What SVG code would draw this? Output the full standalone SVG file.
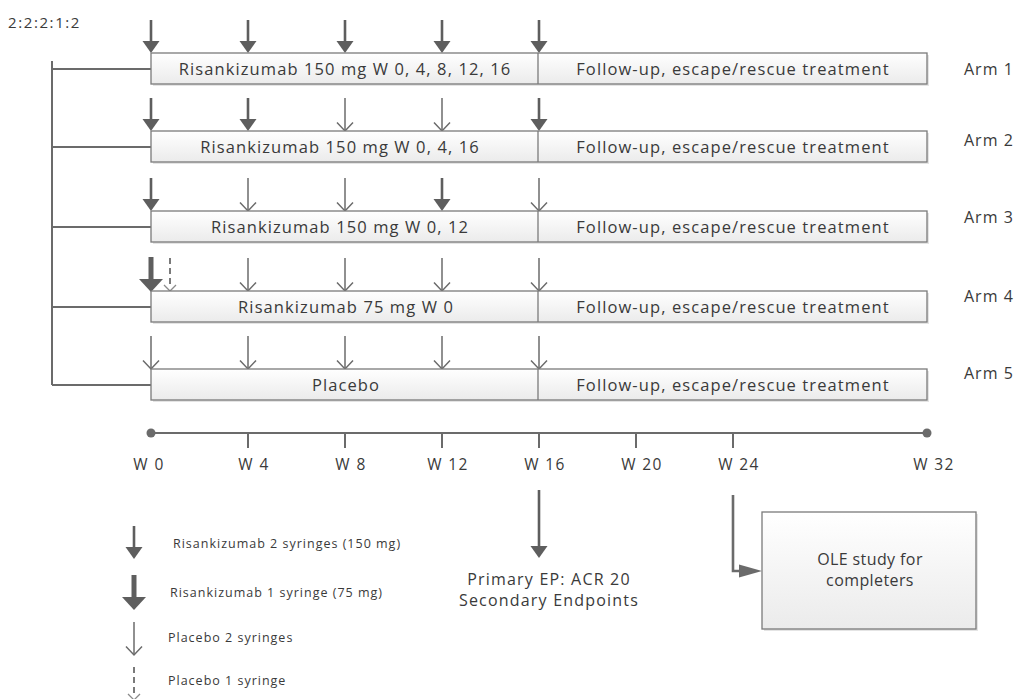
<svg xmlns="http://www.w3.org/2000/svg" xmlns:xlink="http://www.w3.org/1999/xlink" width="1019" height="699" viewBox="0 0 1019 699">
<style>
.txt{font-family:"Open Sans","Noto Sans",sans-serif;fill:#3a3a3a;}
.bar{fill:url(#g);stroke:#7a7a7a;stroke-width:1.3;}
.shadow{fill:#e4e4e4;}
.ln{stroke:#6b6b6b;stroke-width:2;fill:none;}
.lbl{font-size:16.5px;letter-spacing:1.1px;text-anchor:middle;}
.arm{font-size:16px;letter-spacing:1px;}
.wk{font-size:15.5px;letter-spacing:1.4px;text-anchor:middle;}
.ep{font-size:16px;letter-spacing:1.2px;text-anchor:middle;}
.leg{font-size:12.5px;letter-spacing:1px;}
</style>
<defs>
<linearGradient id="g" x1="0" y1="0" x2="0" y2="1">
<stop offset="0" stop-color="#ffffff"/>
<stop offset="1" stop-color="#ebebeb"/>
</linearGradient>
<g id="fa"><line x1="0" y1="-33" x2="0" y2="-10" stroke="#5e5e5e" stroke-width="2.6"/><polygon points="-8.5,-12 8.5,-12 0,0" fill="#5e5e5e"/></g>
<g id="oa"><line x1="0" y1="-33" x2="0" y2="-0.5" stroke="#6b6b6b" stroke-width="1.5"/><polyline points="-8,-8.5 0,0 8,-8.5" fill="none" stroke="#6b6b6b" stroke-width="1.5"/></g>
<g id="ta"><line x1="0" y1="-35" x2="0" y2="-11" stroke="#5e5e5e" stroke-width="5"/><polygon points="-12,-13 12,-13 0,0" fill="#5e5e5e"/></g>
<g id="da"><line x1="0" y1="-33" x2="0" y2="-3" stroke="#7a7a7a" stroke-width="2" stroke-dasharray="6,4"/><polyline points="-6,-6 0,0 6,-6" fill="none" stroke="#8a8a8a" stroke-width="1.3"/></g>
</defs>
<rect width="1019" height="699" fill="#ffffff"/>
<text class="txt" x="8" y="28" font-size="15" letter-spacing="1.6">2:2:2:1:2</text>
<g id="connectors">
<path class="ln" d="M52,61 V385 M52,69 H151 M52,147 H151 M52,227 H151 M52,307 H151 M52,385 H151"/>
<line class="ln" x1="151" y1="433" x2="927" y2="433"/>
<circle cx="151" cy="433" r="4.5" fill="#6b6b6b"/>
<circle cx="927" cy="433" r="4.5" fill="#6b6b6b"/>
<path class="ln" d="M248,433 V448 M345,433 V448 M442,433 V448 M539,433 V448 M636,433 V448 M733,433 V448"/>
<use xlink:href="#fa" x="151" y="53"/><use xlink:href="#fa" x="248" y="53"/><use xlink:href="#fa" x="345" y="53"/><use xlink:href="#fa" x="442" y="53"/><use xlink:href="#fa" x="539" y="53"/>
<use xlink:href="#fa" x="151" y="131"/><use xlink:href="#fa" x="248" y="131"/><use xlink:href="#oa" x="345" y="131"/><use xlink:href="#oa" x="442" y="131"/><use xlink:href="#fa" x="539" y="131"/>
<use xlink:href="#fa" x="151" y="211"/><use xlink:href="#oa" x="248" y="211"/><use xlink:href="#oa" x="345" y="211"/><use xlink:href="#fa" x="442" y="211"/><use xlink:href="#oa" x="539" y="211"/>
<use xlink:href="#da" x="170" y="291"/><use xlink:href="#ta" x="151" y="292"/><use xlink:href="#oa" x="248" y="291"/><use xlink:href="#oa" x="345" y="291"/><use xlink:href="#oa" x="442" y="291"/><use xlink:href="#oa" x="539" y="291"/>
<use xlink:href="#oa" x="151" y="369"/><use xlink:href="#oa" x="248" y="369"/><use xlink:href="#oa" x="345" y="369"/><use xlink:href="#oa" x="442" y="369"/><use xlink:href="#oa" x="539" y="369"/>
<line x1="539" y1="490" x2="539" y2="548" stroke="#5e5e5e" stroke-width="2.6"/><polygon points="530.5,546 547.5,546 539,558" fill="#5e5e5e"/>
<path d="M733,495 V571 H741" fill="none" stroke="#6b6b6b" stroke-width="2.6"/><polygon points="739,564.5 762,571 739,577.5" fill="#6b6b6b"/>
</g>
<g id="arm1">
<rect class="shadow" x="153" y="55" width="776" height="31"/>
<rect class="bar" x="151" y="53" width="776" height="31"/>
<line x1="538" y1="53" x2="538" y2="84" stroke="#7a7a7a" stroke-width="1.3"/>
<text class="txt lbl" x="345" y="75">Risankizumab 150 mg W 0, 4, 8, 12, 16</text>
<text class="txt lbl" x="733" y="75">Follow-up, escape/rescue treatment</text>
<text class="txt arm" x="964" y="75">Arm 1</text>
</g>
<g id="arm2">
<rect class="shadow" x="153" y="133" width="776" height="31"/>
<rect class="bar" x="151" y="131" width="776" height="31"/>
<line x1="538" y1="131" x2="538" y2="162" stroke="#7a7a7a" stroke-width="1.3"/>
<text class="txt lbl" x="340" y="153">Risankizumab 150 mg W 0, 4, 16</text>
<text class="txt lbl" x="733" y="153">Follow-up, escape/rescue treatment</text>
<text class="txt arm" x="964" y="146">Arm 2</text>
</g>
<g id="arm3">
<rect class="shadow" x="153" y="213" width="776" height="31"/>
<rect class="bar" x="151" y="211" width="776" height="31"/>
<line x1="538" y1="211" x2="538" y2="242" stroke="#7a7a7a" stroke-width="1.3"/>
<text class="txt lbl" x="340" y="233">Risankizumab 150 mg W 0, 12</text>
<text class="txt lbl" x="733" y="233">Follow-up, escape/rescue treatment</text>
<text class="txt arm" x="964" y="223">Arm 3</text>
</g>
<g id="arm4">
<rect class="shadow" x="153" y="293" width="776" height="31"/>
<rect class="bar" x="151" y="291" width="776" height="31"/>
<line x1="538" y1="291" x2="538" y2="322" stroke="#7a7a7a" stroke-width="1.3"/>
<text class="txt lbl" x="346" y="313">Risankizumab 75 mg W 0</text>
<text class="txt lbl" x="733" y="313">Follow-up, escape/rescue treatment</text>
<text class="txt arm" x="964" y="302">Arm 4</text>
</g>
<g id="arm5">
<rect class="shadow" x="153" y="371" width="776" height="31"/>
<rect class="bar" x="151" y="369" width="776" height="31"/>
<line x1="538" y1="369" x2="538" y2="400" stroke="#7a7a7a" stroke-width="1.3"/>
<text class="txt lbl" x="346" y="391">Placebo</text>
<text class="txt lbl" x="733" y="391">Follow-up, escape/rescue treatment</text>
<text class="txt arm" x="964" y="379">Arm 5</text>
</g>
<g id="timeline-labels">
<text class="txt wk" x="149" y="470">W 0</text>
<text class="txt wk" x="254" y="470">W 4</text>
<text class="txt wk" x="351" y="470">W 8</text>
<text class="txt wk" x="448" y="470">W 12</text>
<text class="txt wk" x="545" y="470">W 16</text>
<text class="txt wk" x="642" y="470">W 20</text>
<text class="txt wk" x="739" y="470">W 24</text>
<text class="txt wk" x="934" y="470">W 32</text>
</g>
<g id="endpoint">
<text class="txt ep" x="549" y="585">Primary EP: ACR 20</text>
<text class="txt ep" x="549" y="606">Secondary Endpoints</text>
</g>
<g id="ole">
<rect class="shadow" x="764" y="514" width="214" height="117"/>
<rect class="bar" x="762" y="512" width="214" height="117"/>
<text class="txt" x="870" y="565" font-size="16" letter-spacing="0.4" text-anchor="middle">OLE study for</text>
<text class="txt" x="870" y="586" font-size="16" letter-spacing="0.4" text-anchor="middle">completers</text>
</g>
<g id="legend">
<use xlink:href="#fa" x="134" y="559"/>
<use xlink:href="#ta" x="134" y="610"/>
<use xlink:href="#oa" x="134" y="655"/>
<use xlink:href="#da" x="134" y="700"/>
<text class="txt leg" x="173" y="548">Risankizumab 2 syringes (150 mg)</text>
<text class="txt leg" x="170" y="597">Risankizumab 1 syringe (75 mg)</text>
<text class="txt leg" x="168" y="642">Placebo 2 syringes</text>
<text class="txt leg" x="168" y="685">Placebo 1 syringe</text>
</g>
</svg>
